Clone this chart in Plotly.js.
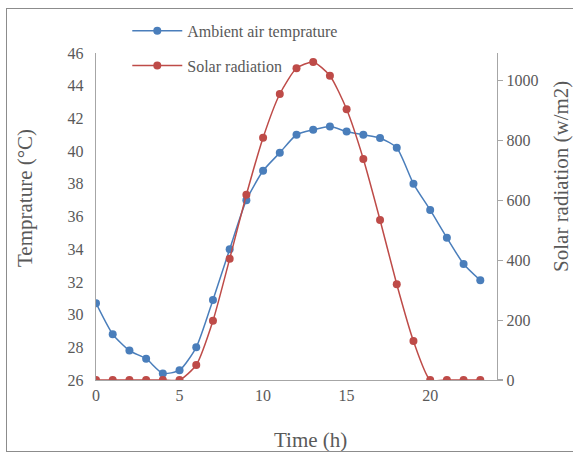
<!DOCTYPE html>
<html>
<head>
<meta charset="utf-8">
<script src="https://cdn.plot.ly/plotly-3.0.1.min.js"></script>
<style>
html,body{margin:0;padding:0;background:#fff;overflow:hidden;}
#chart{width:573px;height:455px;position:relative;}
#frame{position:absolute;left:6px;top:8px;width:600px;height:444px;border:1.5px solid #8c8c8c;border-right:none;box-sizing:border-box;pointer-events:none;}
</style>
</head>
<body>
<div id="chart"></div>
<script>
// Data
var hours = [0,1,2,3,4,5,6,7,8,9,10,11,12,13,14,15,16,17,18,19,20,21,22,23];
var ambientTemp = [30.7,28.8,27.8,27.3,26.4,26.6,28.0,30.9,34.0,37.0,38.8,39.9,41.0,41.3,41.5,41.2,41.0,40.8,40.2,38.0,36.4,34.7,33.1,32.1];
var solarRadiation = [0,0,0,0,0,0,50,198,405,619,810,956,1042,1063,1017,905,739,535,320,130,0,0,0,0];
var xTicks = [0,5,10,15,20];
var leftTicks = [26,28,30,32,34,36,38,40,42,44,46];
var rightTicks = [0,200,400,600,800,1000];

var serif = 'Liberation Serif, Times New Roman, serif';
var txt = '#595959';
var axisCol = '#a6a6a6';

var traces = [
  {
    x: hours, y: ambientTemp, name: 'Ambient air temprature',
    type: 'scatter', mode: 'lines+markers', yaxis: 'y',
    line: {color: '#4a7ebb', width: 1.5, shape: 'spline', smoothing: 0.6},
    marker: {color: '#4a7ebb', size: 8},
    legendgroup: 'a'
  },
  {
    x: hours, y: solarRadiation, name: 'Solar radiation',
    type: 'scatter', mode: 'lines+markers', yaxis: 'y2',
    line: {color: '#be4b48', width: 1.5, shape: 'spline', smoothing: 0.6},
    marker: {color: '#be4b48', size: 8},
    legendgroup: 'b'
  }
];

var layout = {
  width: 573, height: 455,
  margin: {l: 96, r: 76, t: 53, b: 75},
  paper_bgcolor: '#fff', plot_bgcolor: 'rgba(0,0,0,0)',
  font: {family: serif, size: 16, color: txt},
  showlegend: true,
  legend: {
    x: 0.078, y: 1.12, xanchor: 'left', yanchor: 'top',
    bgcolor: 'rgba(0,0,0,0)', font: {family: serif, size: 16, color: txt},
    itemwidth: 50, traceorder: 'grouped', tracegroupgap: 11
  },
  xaxis: {
    range: [0, 24], tickvals: xTicks, ticktext: xTicks.map(String),
    showgrid: false, zeroline: false, showline: true, linecolor: axisCol, linewidth: 1.3,
    ticks: '', tickfont: {family: serif, size: 16, color: txt}, fixedrange: true
  },
  yaxis: {
    range: [26, 46], tickvals: leftTicks, ticktext: leftTicks.map(String),
    showgrid: false, zeroline: false, showline: true, linecolor: axisCol, linewidth: 1.3,
    ticks: '', ticklabelstandoff: 8, tickfont: {family: serif, size: 16, color: txt}
  },
  yaxis2: {
    range: [0, 1093], tickvals: rightTicks, ticktext: rightTicks.map(String),
    overlaying: 'y', side: 'right', anchor: 'x',
    showgrid: false, zeroline: false, showline: true, linecolor: axisCol, linewidth: 1.3,
    ticks: 'outside', ticklen: 5, tickcolor: axisCol, tickwidth: 1.3,
    tickfont: {family: serif, size: 16, color: txt}
  },
  annotations: [
    {text: 'Temprature (°C)', xref: 'paper', yref: 'paper', x: -0.177, y: 0.5566,
     xanchor: 'center', yanchor: 'middle',
     textangle: -90, showarrow: false, font: {family: serif, size: 21, color: txt}},
    {text: 'Solar radiation (w/m2)', xref: 'paper', yref: 'paper', x: 1.1596, y: 0.624,
     xanchor: 'center', yanchor: 'middle',
     textangle: -90, showarrow: false, font: {family: serif, size: 21, color: txt}},
    {text: 'Time (h)', xref: 'paper', yref: 'paper', x: 0.534, y: -0.1835,
     xanchor: 'center', yanchor: 'middle',
     showarrow: false, font: {family: serif, size: 21, color: txt}}
  ]
};

Plotly.newPlot('chart', traces, layout, {displayModeBar: false, staticPlot: true}).then(function(){
  var f = document.createElement('div');
  f.id = 'frame';
  document.getElementById('chart').appendChild(f);
});
</script>
</body>
</html>
